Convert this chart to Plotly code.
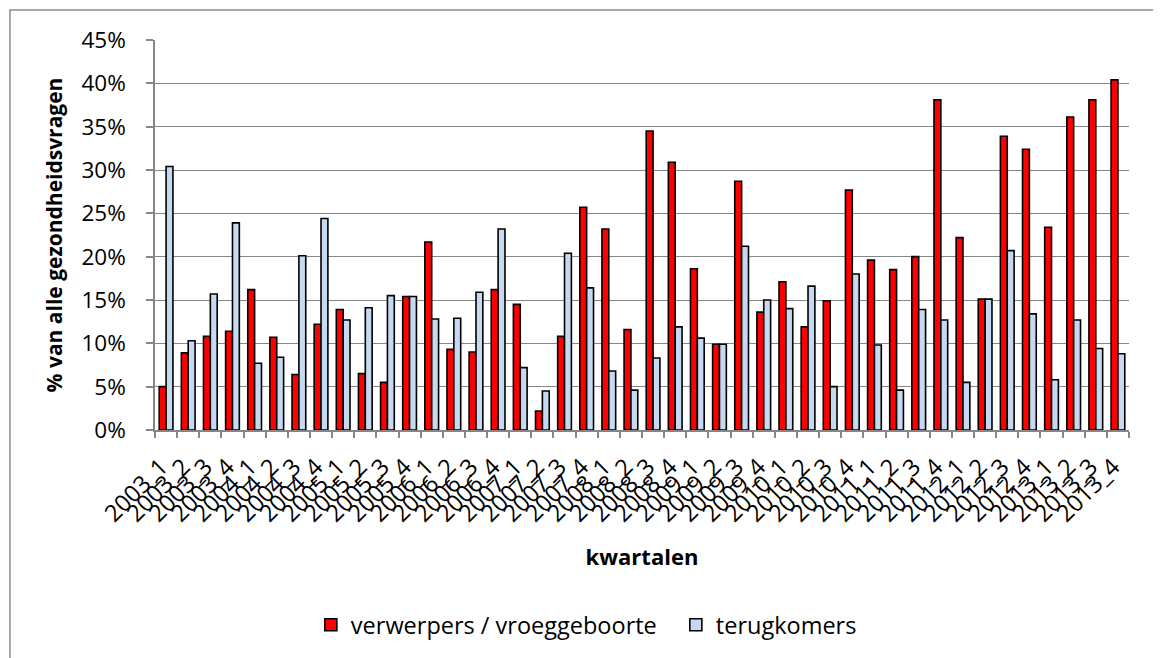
import plotly.graph_objects as go

categories = [f"{y}_{q}" for y in range(2003, 2014) for q in range(1, 5)]

verwerpers = [5.0, 8.9, 10.8, 11.4, 16.2, 10.7, 6.4, 12.2, 13.9, 6.5, 5.5, 15.4,
              21.7, 9.3, 9.0, 16.2, 14.5, 2.2, 10.8, 25.7, 23.2, 11.6, 34.5, 30.9,
              18.6, 9.9, 28.7, 13.6, 17.1, 11.9, 14.9, 27.7, 19.6, 18.5, 20.0, 38.1,
              22.2, 15.1, 33.9, 32.4, 23.4, 36.1, 38.1, 40.4]
terugkomers = [30.4, 10.3, 15.7, 23.9, 7.7, 8.4, 20.1, 24.4, 12.7, 14.1, 15.5, 15.4,
               12.8, 12.9, 15.9, 23.2, 7.2, 4.5, 20.4, 16.4, 6.8, 4.6, 8.3, 11.9,
               10.6, 9.9, 21.2, 15.0, 14.0, 16.6, 5.0, 18.0, 9.8, 4.6, 13.9, 12.7,
               5.5, 15.1, 20.7, 13.4, 5.8, 12.7, 9.4, 8.8]

series_names = ["verwerpers / vroeggeboorte", "terugkomers"]
y_ticks = list(range(0, 50, 5))

FONT = "Open Sans"
GRID = "#868686"

fig = go.Figure()
fig.add_trace(go.Bar(x=categories, y=verwerpers, name=series_names[0],
                     marker=dict(color="#FF0000", line=dict(color="#000000", width=1.6))))
fig.add_trace(go.Bar(x=categories, y=terugkomers, name=series_names[1],
                     marker=dict(color="#C6D9F1", line=dict(color="#000000", width=1.6))))

fig.update_layout(
    width=1153, height=650,
    margin=dict(l=147, r=32, t=32, b=227),
    paper_bgcolor="white", plot_bgcolor="white",
    barmode="group", bargap=0.38, bargroupgap=0,
    font=dict(family=FONT, size=22, color="#000000"),
    showlegend=True,
    legend=dict(orientation="h", x=0.16, xanchor="left", y=-0.496, yanchor="middle",
                font=dict(family=FONT, size=23.5), traceorder="normal",
                itemwidth=30, entrywidth=320, entrywidthmode="pixels",
                bgcolor="rgba(0,0,0,0)"),
    shapes=[dict(type="rect", xref="paper", yref="paper",
                 x0=-0.1489, x1=1.2, y0=-0.8, y1=1.0767,
                 line=dict(color="#8C8C8C", width=1.5), layer="below")],
)

fig.update_xaxes(
    type="category", tickmode="array", tickvals=categories, ticktext=categories,
    tickangle=-45, tickfont=dict(family=FONT, size=23.5),
    ticklabelstandoff=12, ticklabelshift=-5,
    showline=True, linecolor=GRID, linewidth=1.5,
    ticks="outside", ticklen=6, tickcolor=GRID, tickwidth=1.5, tickson="boundaries",
    showgrid=False,
    title=dict(text="<b>kwartalen</b>", font=dict(family=FONT, size=22), standoff=22),
)
fig.update_yaxes(
    range=[0, 45], tickmode="array", tickvals=y_ticks,
    ticktext=[f"{v}%" for v in y_ticks],
    tickfont=dict(family=FONT, size=22.5),
    showline=True, linecolor=GRID, linewidth=1.5,
    ticks="outside", ticklen=7, tickcolor=GRID, tickwidth=1.5, ticklabelstandoff=16,
    showgrid=True, gridcolor=GRID, gridwidth=1.3, zeroline=False,
    title=dict(text="<b>% van alle gezondheidsvragen</b>", font=dict(family=FONT, size=21), standoff=13),
)

fig.write_html("out.html")
